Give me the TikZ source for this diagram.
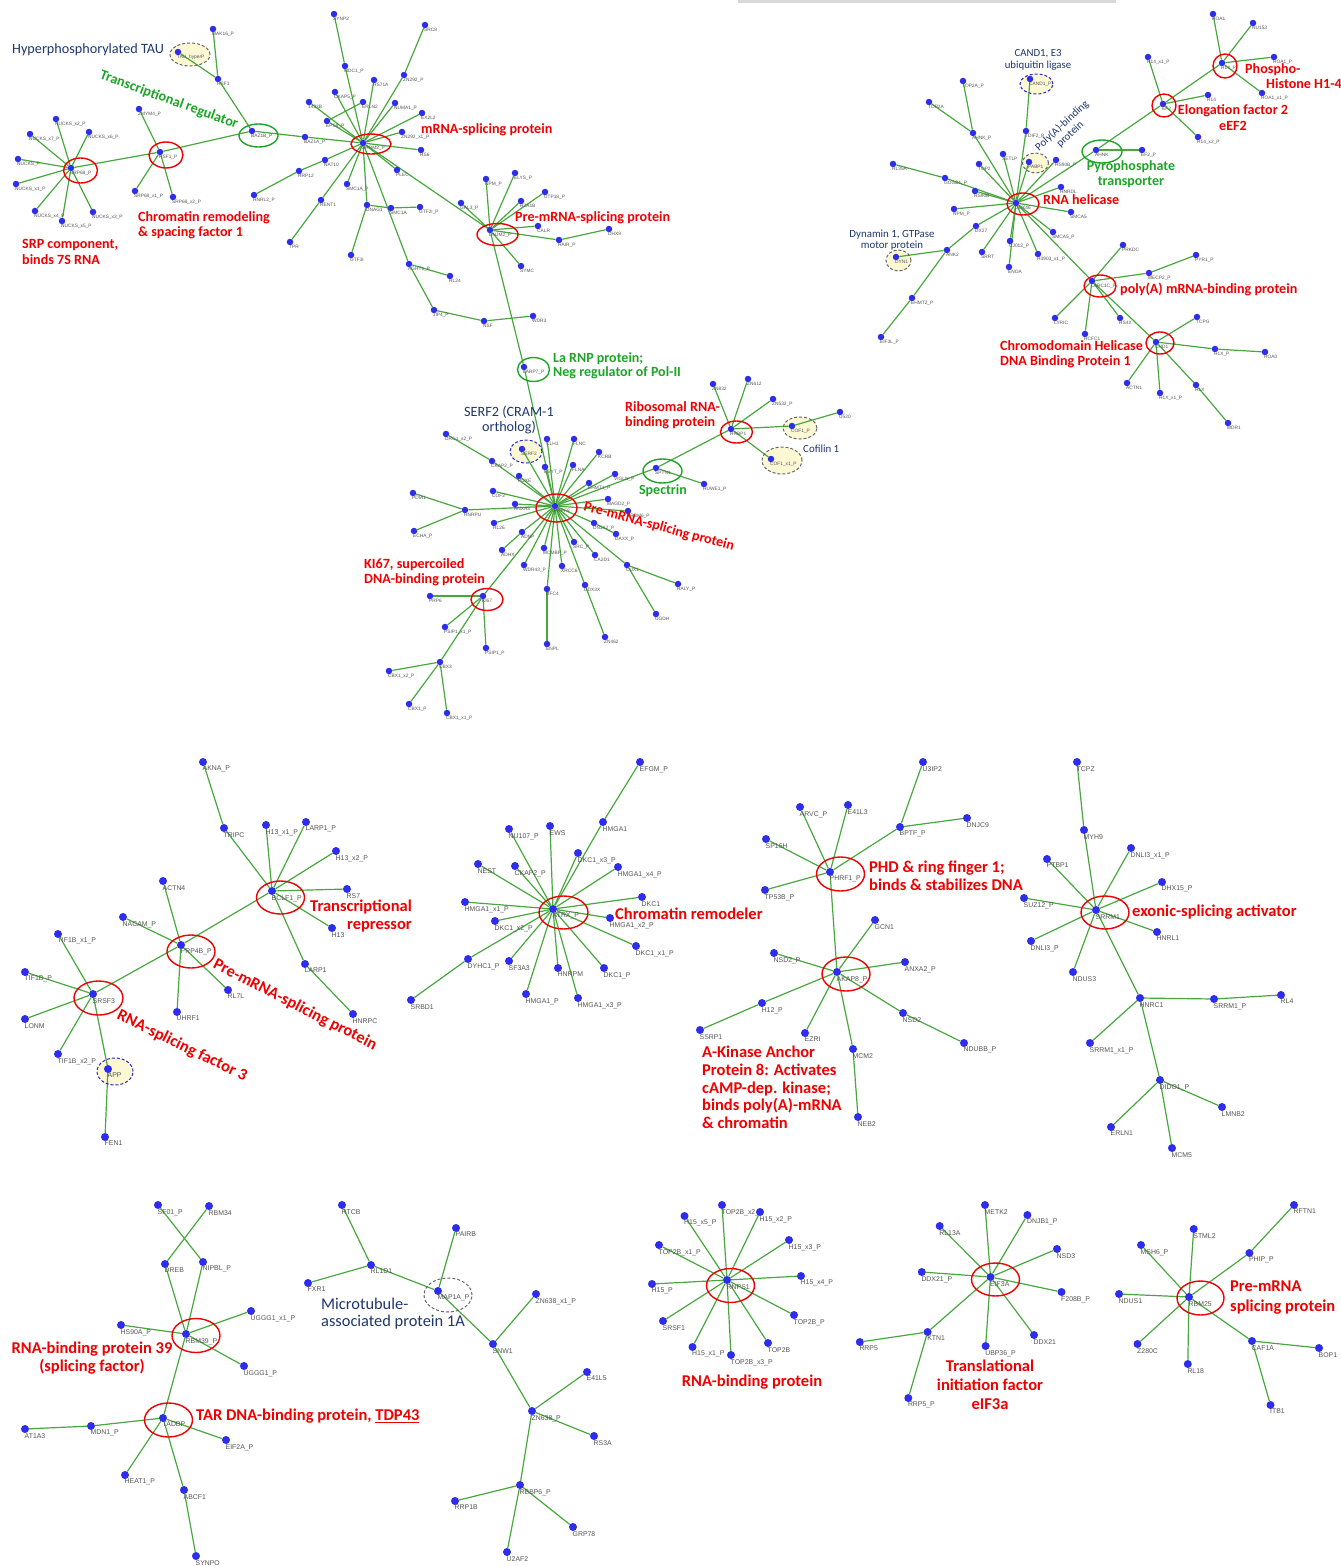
\documentclass[tikz,border=0pt]{standalone}
\usepackage{fontspec}
\setmainfont{Carlito}
\newfontfamily\arialf{Liberation Sans}
\pgfdeclarelayer{paper}
\pgfdeclarelayer{fills}
\pgfdeclarelayer{edges}
\pgfsetlayers{paper,fills,edges,main}
\definecolor{nodeblue}{RGB}{45,45,235}
\definecolor{edgegreen}{RGB}{72,168,62}
\definecolor{redc}{RGB}{240,0,0}
\definecolor{greenc}{RGB}{30,165,40}
\definecolor{navy}{RGB}{30,55,110}
\definecolor{cream}{RGB}{252,248,212}
\definecolor{lblgray}{RGB}{85,85,85}
\definecolor{dashblue}{RGB}{40,40,200}
\tikzset{
 dot/.style={circle,fill=nodeblue,inner sep=0pt,minimum size=6.5pt},
 dotb/.style={circle,fill=nodeblue,inner sep=0pt,minimum size=8pt},
 lbl/.style={anchor=north west,inner sep=0pt,font=\arialf\fontsize{4.8}{5}\selectfont,text=lblgray},
 lblb/.style={anchor=north west,inner sep=0pt,font=\arialf\fontsize{6.9}{7.5}\selectfont,text=lblgray},
 edge/.style={draw=edgegreen,line width=1.2pt},
 redring/.style={draw=redc,line width=1.4pt},
 greenring/.style={draw=greenc,line width=1.4pt},
 grayring/.style={draw=gray!80!black,line width=1pt,dash pattern=on 3pt off 2pt},
 bluering/.style={draw=dashblue,line width=1pt,dash pattern=on 3pt off 2pt},
 redt/.style={text=redc,font=\bfseries\fontsize{14.1}{15.2}\selectfont,inner sep=0pt},
 redtb/.style={text=redc,font=\bfseries\fontsize{16.5}{17.7}\selectfont,inner sep=0pt},
 greent/.style={text=greenc,font=\bfseries\fontsize{14}{14.8}\selectfont,inner sep=0pt},
 bluet/.style={text=navy,font=\fontsize{14.2}{15}\selectfont,inner sep=0pt},
}
\newcommand\nd[4]{\node[dot] (#1) at (#2,#3) {}; \node[lbl] (#1l) at (#2-1,#3+2.5) {#4};}
\newcommand\ndb[4]{\node[dotb] (#1) at (#2,#3) {}; \node[lblb] (#1l) at (#2-0.5,#3+4) {#4};}
\newcommand\edges[1]{\begin{pgfonlayer}{edges}\foreach \ea/\eb in {#1} \draw[edge] (\ea)--(\eb);\end{pgfonlayer}}
\newcommand\ring[5]{\draw[#1] (#2,#3) ellipse [x radius=#4pt, y radius=#5pt];}
\newcommand\fring[5]{\begin{pgfonlayer}{fills}\fill[cream] (#2,#3) ellipse [x radius=#4pt, y radius=#5pt];\end{pgfonlayer}\draw[#1] (#2,#3) ellipse [x radius=#4pt, y radius=#5pt];}
\begin{document}
\begin{tikzpicture}[x=1pt,y=-1pt]
\useasboundingbox (0,0) rectangle (1341,1566);
\begin{pgfonlayer}{paper}
\fill[white] (0,0) rectangle (1341,1566);
\fill[gray!30] (738,0) rectangle (1116,3);
\end{pgfonlayer}
% ---------- cluster A
\nd{srp68}{71}{168}{SRP68\_P}
\nd{nk2}{56}{119}{NUCKS\_x2\_P}
\nd{nk6}{89}{132}{NUCKS\_x6\_P}
\nd{nk7}{30}{134}{NUCKS\_x7\_P}
\nd{nk}{18}{159}{NUCKS\_P}
\nd{nk1}{16}{184}{NUCKS\_x1\_P}
\nd{nk4}{35}{211}{NUCKS\_x4\_P}
\nd{nk5}{62}{221}{NUCKS\_x5\_P}
\nd{nk3}{93}{212}{NUCKS\_x3\_P}
\nd{rsf1p}{160}{152}{RSF1\_P}
\nd{zmym}{139}{109}{ZMYM4\_P}
\nd{srpx1}{135}{191}{SRP68\_x1\_P}
\nd{srpx2}{173}{197}{SRP68\_x2\_P}
\nd{baz1b}{252}{131}{BAZ1B\_P}
\nd{rsf1}{218}{79}{RSF1}
\nd{mak16}{213}{29}{MAK16\_P}
\nd{tau}{178}{52}{TAU\_hyperP}
\nd{baz1a}{305}{137}{BAZ1A\_P}
% ---------- cluster B
\nd{hubB}{363}{143}{SRRM2\_P}
\nd{synp2}{334}{14}{SYNP2}
\nd{src8}{425}{25}{SRC8}
\nd{mdc1}{345}{66}{MDC1\_P}
\nd{zn292}{404}{75}{ZN292\_P}
\nd{hs71a}{374}{80}{HS71A}
\nd{ckap5}{335}{92}{CKAP5\_P}
\nd{erln2}{363}{102}{ERLN2}
\nd{numa1}{395}{103}{NUMA1\_P}
\nd{b1433}{309}{102}{1433B}
\nd{ex2l2}{422}{113}{EX2L2}
\nd{eps8}{327}{121}{EPS8\_P}
\nd{zn292x}{402}{132}{ZN292\_x1\_P}
\nd{rs6}{421}{150}{RS6}
\nd{nat10}{325}{160}{NAT10}
\nd{plec}{397}{170}{PLEC}
\nd{rrp12}{299}{171}{RRP12}
\nd{smc1ap}{347}{184}{SMC1A\_P}
\nd{hnrl2}{254}{195}{HNRL2\_P}
\nd{rcnt1}{321}{200}{RENT1}
\nd{dnag1}{367}{205}{DNAG1}
\nd{smc1a}{391}{208}{SMC1A}
\nd{gtf2ip}{420}{207}{GTF2I\_P}
\nd{tpr}{290}{242}{TPR}
\nd{gtf3i}{351}{255}{GTF3I}
\nd{agh}{409}{264}{AGHT1\_P}
\nd{rl24}{450}{276}{RL24}
\nd{jip4}{434}{310}{JIP4\_P}
\nd{nsf}{484}{321}{NSF}
\nd{wdr3}{533}{316}{WDR3}
% ---------- cluster C
\nd{hubC}{490}{230}{DNJM2\_P}
\nd{npm}{486}{179}{NPM\_P}
\nd{elys}{515}{173}{ELYS\_P}
\nd{gal3}{461}{203}{GAL3\_P}
\nd{h2a1b}{521}{201}{H2A1B}
\nd{utp18}{545}{192}{UTP18\_P}
\nd{calr}{538}{226}{CALR}
\nd{hair}{559}{240}{HAIR\_P}
\nd{dhx9}{609}{229}{DHX9}
\nd{symc}{521}{266}{SYMC}
\nd{larp7}{524}{367}{LARP7\_P}
% ---------- cluster D
\nd{hubD}{555}{506}{PRPF8}
\nd{clh1}{547}{439}{CLH1}
\nd{flnc}{574}{439}{FLNC}
\nd{kcrb}{599}{452}{KCRB}
\nd{flna}{573}{465}{FLNA}
\nd{serf2}{522}{449}{SERF2}
\nd{esyt}{545}{467}{ESYT\_P}
\nd{ckap2}{492}{461}{CKAP2\_P}
\nd{drg1}{446}{434}{DRG1\_x2\_P}
\nd{pdcd}{519}{476}{PDXE}
\nd{cof2}{493}{491}{COF2}
\nd{anxa3}{515}{504}{ANXA3}
\nd{hnrpu}{465}{510}{HNRPU}
\nd{pdia}{413}{493}{PDIA1}
\nd{echa}{414}{531}{ECHA\_P}
\nd{rl26}{494}{523}{RL26}
\nd{vigln}{615}{474}{VIGLN\_P}
\nd{ehmt1}{589}{483}{EHMT1\_P}
\nd{macd2}{608}{499}{MAGD2\_P}
\nd{srm6}{628}{511}{SRBM6\_P}
\nd{dnja}{594}{523}{DNJA2\_P}
\nd{daxx}{616}{534}{DAXX\_P}
\nd{adnp}{522}{532}{ADNP}
\nd{adhx}{502}{550}{ADHX}
\nd{mcmbp}{544}{548}{MCMBP\_P}
\nd{srcp}{574}{542}{SRC\_P}
\nd{ca2d1}{595}{555}{CA2D1}
\nd{cux1}{627}{565}{CUX1}
\nd{raly}{678}{584}{RALY\_P}
\nd{ugdh}{656}{614}{UGDH}
\nd{wdr43}{524}{565}{WDR43\_P}
\nd{xrcc6}{562}{566}{XRCC6}
\nd{rfc4}{547}{589}{RFC4}
\nd{sox}{585}{585}{DDX3X}
\nd{enpl}{547}{644}{ENPL}
\nd{zn462}{605}{637}{ZN462}
\nd{ki67}{483}{596}{KI67}
\nd{prp6}{430}{596}{PRP6}
\nd{psipx1}{445}{627}{PSIP1\_x1\_P}
\nd{psip1}{486}{648}{PSIP1\_P}
\nd{cbx2}{440}{662}{CBX3}
\nd{cbxx2}{389}{671}{CBX1\_x2\_P}
\nd{cbx1}{409}{704}{CBX1\_P}
\nd{cbxx1}{447}{713}{CBX1\_x1\_P}
\nd{sptn}{656}{468}{SPTN1}
\nd{huwe1}{704}{484}{HUWE1\_P}
\nd{rrbp1}{731}{429}{RRBP1}
\nd{zn832}{713}{384}{ZN832}
\nd{zn612}{748}{379}{ZN612}
\nd{zn532}{773}{399}{ZN532\_P}
\nd{cof1p}{792}{426}{COF1\_P}
\nd{u520}{840}{412}{U520}
\nd{cof1x}{771}{459}{COF1\_x1\_P}
% ---------- cluster E
\nd{hubE}{1016}{203}{DDX46}
\nd{top2ap}{963}{81}{TOP2A\_P}
\nd{top2a}{929}{102}{TOP2A}
\nd{ahnkp}{973}{133}{AHNK\_P}
\nd{cand1}{1030}{79}{CAND1\_P}
\nd{tdif2}{1026}{131}{TDIF2\_P}
\nd{pabp1}{1029}{162}{PABP1}
\nd{setlp}{1003}{154}{SETLP}
\nd{top2}{979}{164}{TOP2}
\nd{hs90bp}{1056}{160}{HS90B\_P}
\nd{rl35a}{893}{164}{RL35A}
\nd{goga}{945}{178}{GOGB1\_P}
\nd{hs90b}{975}{191}{HS90B}
\nd{hnrdl}{1061}{187}{HNRDL}
\nd{npme}{954}{209}{NPM\_P}
\nd{smca5}{1071}{212}{SMCA5}
\nd{dx27}{976}{226}{DX27}
\nd{ank2}{947}{250}{ANK2}
\nd{dyn1}{896}{257}{DYN1}
\nd{ehmt2}{912}{298}{EHMT2\_P}
\nd{eif3l}{881}{337}{EIF3L\_P}
\nd{srrt}{982}{252}{SRRT}
\nd{cj012}{1010}{241}{CJ012\_P}
\nd{enoa}{1009}{267}{ENOA}
\nd{h3903}{1038}{254}{H3903\_x1\_P}
\nd{smca5p}{1053}{232}{SMCA5\_P}
\nd{ahnk}{1096}{150}{AHNK}
\nd{ef2p}{1142}{150}{EF2\_P}
\nd{ef2}{1163}{104}{EF2}
\nd{h14x1}{1148}{57}{H14\_x1\_P}
\nd{h14}{1208}{95}{H14}
\nd{h14x2}{1198}{137}{H14\_x2\_P}
\nd{h14p}{1222}{63}{H14\_P}
\nd{roa1}{1213}{14}{ROA1}
\nd{nu153}{1253}{23}{NU153}
\nd{roa1p}{1274}{57}{ROA1\_P}
\nd{roa1x1}{1262}{93}{ROA1\_x1\_P}
\nd{hubP}{1092}{281}{LARC1C\_P}
\nd{prkdc}{1123}{245}{PRKDC}
\nd{mecp2}{1149}{273}{MECP2\_P}
\nd{pyr1}{1196}{255}{PYR1\_P}
\nd{lyric}{1055}{318}{LYRIC}
\nd{hcfc1}{1085}{334}{HCFC1}
\nd{rs4x}{1120}{318}{RS4X}
\nd{chd1}{1156}{342}{CHD1}
\nd{tcpg}{1197}{317}{TCPG}
\nd{h1xp}{1215}{349}{H1X\_P}
\nd{roa0}{1265}{352}{ROA0}
\nd{actn1}{1127}{383}{ACTN1}
\nd{h1xx1}{1160}{393}{H1X\_x1\_P}
\nd{h1x}{1196}{385}{H1X}
\nd{mdr1}{1228}{423}{MDR1}
% ---------- cluster F
\ndb{srsf3}{93}{994}{SRSF3}
\ndb{tif1bx1}{58}{934}{TIF1B\_x1\_P}
\ndb{tif1b}{25}{972}{TIF1B\_P}
\ndb{lonm}{25}{1019}{LONM}
\ndb{tif1bx2}{58}{1054}{TIF1B\_x2\_P}
\ndb{app}{108}{1069}{APP}
\ndb{fen1}{105}{1137}{FEN1}
\ndb{prp4b}{181}{945}{PRP4B\_P}
\ndb{actn4}{163}{881}{ACTN4}
\ndb{nacam}{123}{917}{NACAM\_P}
\ndb{uhrf1}{177}{1012}{UHRF1}
\ndb{rl7l}{228}{990}{RL7L}
\ndb{bclf1}{272}{891}{BCLF1\_P}
\ndb{tripc}{224}{828}{TRIPC}
\ndb{akna}{203}{762}{AKNA\_P}
\ndb{h13x1}{266}{825}{H13\_x1\_P}
\ndb{larp1p}{306}{822}{LARP1\_P}
\ndb{h13x2}{336}{851}{H13\_x2\_P}
\ndb{rs7}{347}{889}{RS7}
\ndb{h13}{332}{928}{H13}
\ndb{larp1}{305}{964}{LARP1}
\ndb{hnrpc}{353}{1014}{HNRPC}
% ---------- cluster G
\ndb{atrx}{553}{909}{ATRX\_P}
\ndb{efgm}{640}{762}{EFGM\_P}
\ndb{hmga1}{603}{822}{HMGA1}
\ndb{nu107}{509}{829}{NU107\_P}
\ndb{ews}{550}{826}{EWS}
\ndb{dkc1x3}{578}{853}{DKC1\_x3\_P}
\ndb{hmga1x4}{618}{867}{HMGA1\_x4\_P}
\ndb{nest}{478}{864}{NEST}
\ndb{ckap2b}{515}{866}{CKAP2\_P}
\ndb{hmga1x1}{465}{902}{HMGA1\_x1\_P}
\ndb{dkc1}{642}{897}{DKC1}
\ndb{dkc1x2}{495}{921}{DKC1\_x2\_P}
\ndb{hmga1x2}{610}{918}{HMGA1\_x2\_P}
\ndb{dkc1x1}{636}{946}{DKC1\_x1\_P}
\ndb{dyhc1}{468}{959}{DYHC1\_P}
\ndb{srbd1}{411}{1000}{SRBD1}
\ndb{sf3a3}{509}{961}{SF3A3}
\ndb{hnrpm}{558}{968}{HNRPM}
\ndb{dkc1p}{604}{968}{DKC1\_P}
\ndb{hmga1p}{526}{994}{HMGA1\_P}
\ndb{hmga1x3}{578}{998}{HMGA1\_x3\_P}
% ---------- cluster H
\ndb{phrf1}{830}{872}{PHRF1\_P}
\ndb{arvc}{800}{807}{ARVC\_P}
\ndb{e41l3}{848}{805}{E41L3}
\ndb{sp16h}{766}{839}{SP16H}
\ndb{tp53b}{765}{890}{TP53B\_P}
\ndb{bptf}{900}{827}{BPTF\_P}
\ndb{u3ip2}{923}{762}{U3IP2}
\ndb{dnjc9}{967}{818}{DNJC9}
\ndb{akap8}{837}{972}{AKAP8\_P}
\ndb{gcn1}{875}{920}{GCN1}
\ndb{nsd2p}{774}{953}{NSD2\_P}
\ndb{anxa2}{905}{962}{ANXA2\_P}
\ndb{h12}{762}{1003}{H12\_P}
\ndb{ssrp1}{700}{1030}{SSRP1}
\ndb{ezri}{805}{1033}{EZRI}
\ndb{mcm2}{853}{1049}{MCM2}
\ndb{neb2}{858}{1117}{NEB2}
\ndb{nsd2}{903}{1013}{NSD2}
\ndb{ndubb}{964}{1043}{NDUBB\_P}
% ---------- cluster I
\ndb{srrm1}{1096}{910}{SRRM1}
\ndb{tcpz}{1077}{762}{TCPZ}
\ndb{myh9}{1084}{830}{MYH9}
\ndb{dnli3x1}{1131}{848}{DNLI3\_x1\_P}
\ndb{ptbp1}{1047}{859}{PTBP1}
\ndb{dhx15}{1162}{882}{DHX15\_P}
\ndb{suz12}{1024}{898}{SUZ12\_P}
\ndb{hnrl1}{1157}{932}{HNRL1}
\ndb{dnli3}{1031}{941}{DNLI3\_P}
\ndb{ndus3}{1073}{972}{NDUS3}
\ndb{hnrc1}{1140}{998}{HNRC1}
\ndb{srrm1p}{1214}{999}{SRRM1\_P}
\ndb{rl4}{1281}{995}{RL4}
\ndb{srrm1x1}{1090}{1043}{SRRM1\_x1\_P}
\ndb{dido1}{1160}{1080}{DIDO1\_P}
\ndb{lmnb2}{1222}{1107}{LMNB2}
\ndb{erln1}{1111}{1127}{ERLN1}
\ndb{mcm5}{1172}{1148}{MCM5}
% ---------- cluster J
\ndb{sfb1}{158}{1205}{SF01\_P}
\ndb{rbm34}{209}{1206}{RBM34}
\ndb{dreb}{165}{1264}{DREB}
\ndb{nipbl}{203}{1262}{NIPBL\_P}
\ndb{rbm39}{186}{1334}{RBM39\_P}
\ndb{uggg1x1}{251}{1311}{UGGG1\_x1\_P}
\ndb{hs90a}{121}{1325}{HS90A\_P}
\ndb{uggg1}{244}{1366}{UGGG1\_P}
\ndb{tadbp}{163}{1418}{TADBP}
\ndb{mdn1}{91}{1426}{MDN1\_P}
\ndb{at1a3}{25}{1429}{AT1A3}
\ndb{eif2a}{226}{1440}{EIF2A\_P}
\ndb{heat1}{125}{1475}{HEAT1\_P}
\ndb{abcf1}{184}{1490}{ABCF1}
\ndb{synpo}{196}{1556}{SYNPO}
% ---------- cluster K
\ndb{rtcb}{342}{1205}{RTCB}
\ndb{rl1d1}{371}{1265}{RL1D1}
\ndb{fxr1}{308}{1283}{FXR1}
\ndb{pairb}{456}{1228}{PAIRB}
\ndb{map1a}{438}{1291}{MAP1A\_P}
\ndb{zn638x1}{536}{1294}{ZN638\_x1\_P}
\ndb{snw1}{493}{1344}{SNW1}
\ndb{e41l5}{587}{1372}{E41L5}
\ndb{zn638}{532}{1411}{ZN638\_P}
\ndb{rs3a}{594}{1436}{RS3A}
\ndb{rbbp6}{520}{1485}{RBBP6\_P}
\ndb{rrp1b}{455}{1501}{RRP1B}
\ndb{grp78}{573}{1527}{GRP78}
\ndb{u2af2}{507}{1552}{U2AF2}
% ---------- cluster L
\ndb{rnps1}{727}{1280}{RNPS1}
\ndb{top2bx2}{722}{1205}{TOP2B\_x2\_P}
\ndb{h15x5}{684.5}{1216}{H15\_x5\_P}
\ndb{h15x2}{760}{1212}{H15\_x2\_P}
\ndb{h15x3}{789}{1240}{H15\_x3\_P}
\ndb{top2bx1}{659}{1245}{TOP2B\_x1\_P}
\ndb{h15x4}{801}{1276}{H15\_x4\_P}
\ndb{h15p}{652}{1284}{H15\_P}
\ndb{top2bp}{794}{1315}{TOP2B\_P}
\ndb{srsf1}{663}{1321}{SRSF1}
\ndb{top2b}{768}{1343}{TOP2B}
\ndb{h15x1}{692.5}{1347}{H15\_x1\_P}
\ndb{top2bx3}{731}{1355}{TOP2B\_x3\_P}
% ---------- cluster M
\ndb{eif3a}{990.5}{1277}{EIF3A}
\ndb{metk2}{985}{1205}{METK2}
\ndb{rl13a}{939.7}{1226}{RL13A}
\ndb{dnjb1}{1027.4}{1215}{DNJB1\_P}
\ndb{nsd3}{1057}{1249}{NSD3}
\ndb{ddx21p}{921.8}{1272}{DDX21\_P}
\ndb{f208b}{1061.5}{1292}{F208B\_P}
\ndb{ddx21}{1034}{1335}{DDX21}
\ndb{ubp36}{985.6}{1346}{UBP36\_P}
\ndb{ktn1}{927.6}{1332}{KTN1}
\ndb{rrp5}{859.8}{1342}{RRP5}
\ndb{rrp5p}{908.3}{1398}{RRP5\_P}
% ---------- cluster N
\ndb{rbm25}{1189}{1297}{RBM25}
\ndb{rftn1}{1294}{1205}{RFTN1}
\ndb{phip}{1249.4}{1253}{PHIP\_P}
\ndb{stml2}{1193.7}{1229}{STML2}
\ndb{msh6}{1141}{1245}{MSH6\_P}
\ndb{ndus1}{1119}{1294}{NDUS1}
\ndb{z280c}{1137.5}{1344}{Z280C}
\ndb{rl18}{1187.8}{1364}{RL18}
\ndb{caf1a}{1252}{1341}{CAF1A}
\ndb{bop1}{1319}{1348}{BOP1}
\ndb{itb1}{1270.5}{1405}{ITB1}
% ---------- edges
\edges{srp68/nk2,srp68/nk6,srp68/nk7,srp68/nk,srp68/nk1,srp68/nk4,srp68/nk5,srp68/nk3,srp68/rsf1p,rsf1p/zmym,rsf1p/srpx1,rsf1p/srpx2,rsf1p/baz1b,baz1b/rsf1,rsf1/mak16,rsf1/tau,baz1b/baz1a,baz1a/hubB}
\edges{synp2/mdc1,mdc1/hubB,src8/zn292,zn292/hubB,hs71a/hubB,ckap5/hubB,b1433/hubB,eps8/erln2,eps8/hubB,numa1/hubB,ex2l2/hubB,zn292x/hubB,rs6/hubB,plec/hubB,nat10/hubB,rrp12/nat10,hnrl2/rrp12,smc1ap/hubB,rcnt1/hubB,tpr/rcnt1,dnag1/hubB,dnag1/gtf3i,dnag1/smc1a,smc1a/gtf2ip,hubB/agh,agh/rl24,agh/jip4,jip4/nsf,nsf/wdr3,hubB/hubC}
\edges{hubC/npm,hubC/elys,hubC/gal3,hubC/h2a1b,hubC/utp18,hubC/calr,hubC/hair,hair/dhx9,hubC/symc,hubC/larp7,larp7/hubD}
\edges{hubD/clh1,hubD/flnc,hubD/kcrb,hubD/flna,hubD/serf2,hubD/esyt,drg1/ckap2,ckap2/hubD,hubD/pdcd,hubD/cof2,hubD/anxa3,hubD/hnrpu,hnrpu/pdia,hnrpu/echa,hubD/rl26,hubD/vigln,hubD/ehmt1,hubD/macd2,hubD/srm6,hubD/dnja,dnja/daxx,hubD/adnp,adnp/adhx,hubD/mcmbp,hubD/srcp,hubD/ca2d1,hubD/cux1,cux1/raly,cux1/ugdh,hubD/wdr43,hubD/xrcc6,hubD/rfc4,rfc4/enpl,hubD/sox,sox/zn462,hubD/ki67,ki67/prp6,ki67/psipx1,ki67/psip1,ki67/cbx2,cbx2/cbxx2,cbx2/cbx1,cbx2/cbxx1,hubD/sptn,sptn/huwe1,sptn/rrbp1,rrbp1/zn832,rrbp1/zn612,rrbp1/zn532,rrbp1/cof1p,cof1p/u520,rrbp1/cof1x}
\edges{top2ap/ahnkp,top2a/ahnkp,ahnkp/hubE,cand1/tdif2,tdif2/hubE,pabp1/hubE,setlp/hubE,top2/hubE,hs90bp/hubE,rl35a/goga,goga/hubE,hs90b/hubE,hnrdl/hubE,npme/hubE,smca5/hubE,dx27/hubE,ank2/dx27,dyn1/ank2,ank2/ehmt2,ehmt2/eif3l,srrt/hubE,cj012/hubE,enoa/hubE,h3903/hubE,smca5p/hubE,hubE/hubP,hubE/ahnk,ahnk/ef2p,ahnk/ef2,ef2/h14x1,ef2/h14,ef2/h14x2,ef2/h14p,h14p/roa1,h14p/nu153,h14p/roa1p,h14p/roa1x1,hubP/prkdc,hubP/mecp2,mecp2/pyr1,hubP/lyric,hubP/hcfc1,hubP/rs4x,hubP/chd1,chd1/tcpg,chd1/h1xp,h1xp/roa0,chd1/actn1,chd1/h1xx1,chd1/h1x,h1x/mdr1}
\edges{srsf3/tif1bx1,srsf3/tif1b,srsf3/lonm,srsf3/tif1bx2,srsf3/app,app/fen1,srsf3/prp4b,prp4b/actn4,prp4b/nacam,prp4b/uhrf1,prp4b/rl7l,prp4b/bclf1,bclf1/tripc,tripc/akna,bclf1/h13x1,bclf1/larp1p,bclf1/h13x2,bclf1/rs7,bclf1/h13,bclf1/larp1,larp1/hnrpc}
\edges{atrx/hmga1,hmga1/efgm,atrx/nu107,atrx/ews,atrx/dkc1x3,atrx/hmga1x4,atrx/nest,atrx/ckap2b,atrx/hmga1x1,atrx/dkc1,atrx/dkc1x2,atrx/hmga1x2,atrx/dkc1x1,atrx/dyhc1,dyhc1/srbd1,atrx/sf3a3,atrx/hnrpm,atrx/dkc1p,atrx/hmga1p,atrx/hmga1x3}
\edges{phrf1/arvc,phrf1/e41l3,phrf1/sp16h,phrf1/tp53b,phrf1/bptf,bptf/u3ip2,bptf/dnjc9,phrf1/akap8,akap8/gcn1,akap8/nsd2p,akap8/anxa2,akap8/h12,h12/ssrp1,akap8/ezri,akap8/mcm2,mcm2/neb2,akap8/nsd2,nsd2/ndubb}
\edges{srrm1/myh9,myh9/tcpz,srrm1/dnli3x1,srrm1/ptbp1,srrm1/dhx15,srrm1/suz12,srrm1/hnrl1,srrm1/dnli3,srrm1/ndus3,srrm1/hnrc1,hnrc1/srrm1p,srrm1p/rl4,hnrc1/srrm1x1,hnrc1/dido1,dido1/lmnb2,dido1/erln1,dido1/mcm5}
\edges{sfb1/nipbl,rbm34/dreb,dreb/rbm39,nipbl/rbm39,rbm39/uggg1x1,rbm39/hs90a,rbm39/uggg1,rbm39/tadbp,tadbp/mdn1,mdn1/at1a3,tadbp/eif2a,tadbp/heat1,tadbp/abcf1,abcf1/synpo}
\edges{rtcb/rl1d1,fxr1/rl1d1,rl1d1/map1a,pairb/map1a,map1a/snw1,snw1/zn638x1,snw1/zn638,zn638/e41l5,zn638/rs3a,zn638/rbbp6,rbbp6/rrp1b,rbbp6/grp78,rbbp6/u2af2}
\edges{rnps1/top2bx2,rnps1/h15x5,rnps1/h15x2,rnps1/h15x3,rnps1/top2bx1,rnps1/h15x4,rnps1/h15p,rnps1/top2bp,rnps1/srsf1,rnps1/top2b,rnps1/h15x1,rnps1/top2bx3}
\edges{eif3a/metk2,eif3a/rl13a,eif3a/dnjb1,eif3a/nsd3,eif3a/ddx21p,eif3a/f208b,eif3a/ddx21,eif3a/ubp36,eif3a/ktn1,ktn1/rrp5,ktn1/rrp5p}
\edges{rbm25/phip,phip/rftn1,rbm25/stml2,rbm25/msh6,rbm25/ndus1,rbm25/z280c,rbm25/rl18,rbm25/caf1a,caf1a/bop1,caf1a/itb1}
% ---------- rings
\ring{redring}{80.5}{170.5}{17}{12.5}
\ring{redring}{166}{155}{17}{13}
\ring{greenring}{258.5}{135.5}{19.5}{11.5}
\fring{grayring}{190}{54.5}{20}{11.5}
\ring{redring}{371}{144}{20}{10}
\ring{redring}{497.5}{234.5}{20.5}{11}
\ring{greenring}{533.5}{369.5}{16}{12}
\ring{redring}{556.5}{508}{20.5}{14}
\fring{bluering}{526}{451.5}{16}{11.5}
\ring{redring}{487}{599.5}{16}{11}
\ring{greenring}{662.5}{471}{19.5}{12}
\ring{redring}{736.5}{432}{16}{11}
\fring{grayring}{800}{428}{17}{11}
\fring{grayring}{782}{460.5}{20}{13.5}
\ring{redring}{1023}{204}{16}{11}
\fring{bluering}{1036.5}{84}{16.5}{10}
\fring{grayring}{1035.5}{163}{13}{10}
\ring{greenring}{1102}{151.5}{20}{11.5}
\ring{redring}{1164}{105.5}{12}{11.5}
\ring{redring}{1225}{66}{12}{12}
\fring{grayring}{898.5}{260.5}{12.5}{10.5}
\ring{redring}{1100}{286}{16}{11}
\ring{redring}{1160}{343}{14}{11}
\ring{redring}{98.5}{998}{24.5}{17}
\ring{redring}{191}{951.5}{24}{16.5}
\ring{redring}{280.5}{897.5}{24}{16.5}
\fring{bluering}{115}{1071.5}{18}{13.5}
\ring{redring}{563.5}{912.5}{24.5}{16.5}
\ring{redring}{840.5}{874}{24}{17}
\ring{redring}{846}{974}{24}{17}
\ring{redring}{1105}{912.5}{24}{16.5}
\ring{redring}{196}{1335.5}{24}{17}
\ring{redring}{168.5}{1420}{24}{17}
\ring{grayring}{448}{1295}{24}{17}
\ring{redring}{730.5}{1285.5}{24}{17}
\ring{redring}{995.5}{1279.5}{24}{16.5}
\ring{redring}{1200.5}{1298}{23.5}{17}
% ---------- annotations
\node[bluet,anchor=west] (tA1) at (12,50) {Hyperphosphorylated TAU};
\node[greent,rotate=-20,font=\bfseries\fontsize{14.3}{15}\selectfont] (tA2) at (169,100) {Transcriptional regulator};
\node[redt,anchor=west,align=left] (tA3) at (138,225.5) {Chromatin remodeling\\\& spacing factor 1};
\node[redt,anchor=west,align=left] (tA4) at (22,252) {SRP component,\\binds 7S RNA};
\node[redt,anchor=west] (tB1) at (421,130) {mRNA-splicing protein};
\node[redt,anchor=west] (tC1) at (515,218) {Pre-mRNA-splicing protein};
\node[greent,anchor=west,align=left,font=\bfseries\fontsize{14}{14}\selectfont] (tC2) at (553,366) {La RNP protein;\\Neg regulator of Pol-II};
\node[bluet,align=center] (tD1) at (509,420) {SERF2 (CRAM-1\\ortholog)};
\node[redt,anchor=west,align=left] (tD2) at (625,415) {Ribosomal RNA-\\binding protein};
\node[bluet,anchor=west,font=\fontsize{10.9}{12}\selectfont] (tD3) at (803,449) {Cofilin 1};
\node[greent] (tD4) at (663,491) {Spectrin};
\node[redt,rotate=-15] (tD5) at (659,527) {Pre-mRNA-splicing protein};
\node[redt,anchor=west,align=left] (tD6) at (364,572) {KI67, supercoiled\\DNA-binding protein};
\node[bluet,align=center,font=\fontsize{10.8}{12}\selectfont] (tE1) at (1038,60) {CAND1, E3\\ubiquitin ligase};
\node[bluet,align=center,rotate=43,font=\fontsize{11}{12}\selectfont] (tE2) at (1066,130) {Poly(A)-binding\\protein};
\node[greent,align=center,font=\bfseries\fontsize{14}{15}\selectfont] (tE3) at (1131,174) {Pyrophosphate\\transporter};
\node[redt,align=center] (tE4) at (1233,117.5) {Elongation factor 2\\eEF2};
\node[redt,anchor=west] (tE5) at (1245,70) {Phospho-};
\node[redt,anchor=west] (tE6) at (1266,83.5) {Histone H1-4};
\node[redt,anchor=west] (tE7) at (1043,200) {RNA helicase};
\node[bluet,align=center,font=\fontsize{10.9}{11.5}\selectfont] (tE8) at (892,240) {Dynamin 1, GTPase\\motor protein};
\node[redt,anchor=west] (tE9) at (1120,289) {poly(A) mRNA-binding protein};
\node[redt,anchor=west,align=left] (tE10) at (1000,354.5) {Chromodomain Helicase\\DNA Binding Protein 1};
\node[redtb,anchor=east,align=right] (tF1) at (412,916) {Transcriptional\\repressor};
\node[redtb,rotate=-27] (tF2) at (295,1005) {Pre-mRNA-splicing protein};
\node[redtb,rotate=-26] (tF3) at (182,1046) {RNA-splicing factor 3};
\node[redtb,anchor=west] (tG1) at (615,914) {Chromatin remodeler};
\node[redtb,anchor=west,align=left] (tH1) at (869,876) {PHD \& ring finger 1;\\binds \& stabilizes DNA};
\node[redtb,anchor=west,align=left] (tH2) at (702,1087.5) {A-Kinase Anchor\\Protein 8: Activates\\cAMP-dep. kinase;\\binds poly(A)-mRNA\\\& chromatin};
\node[redtb,anchor=west] (tI1) at (1132,912) {exonic-splicing activator};
\node[redtb,align=center] (tJ1) at (92,1358) {RNA-binding protein 39\\(splicing factor)};
\node[redtb,anchor=west] (tJ2) at (196,1416) {TAR DNA-binding protein, \underline{TDP43}};
\node[bluet,anchor=west,align=left,font=\fontsize{16.4}{17}\selectfont] (tK1) at (321,1313.5) {Microtubule-\\associated protein 1A};
\node[redtb] (tL1) at (752,1382) {RNA-binding protein};
\node[redtb,align=center,font=\bfseries\fontsize{16.5}{19}\selectfont] (tM1) at (990,1385) {Translational\\initiation factor\\eIF3a};
\node[redtb,anchor=west,align=left,font=\bfseries\fontsize{16.5}{20}\selectfont] (tN1) at (1230,1298) {Pre-mRNA\\splicing protein};
\end{tikzpicture}
\end{document}
